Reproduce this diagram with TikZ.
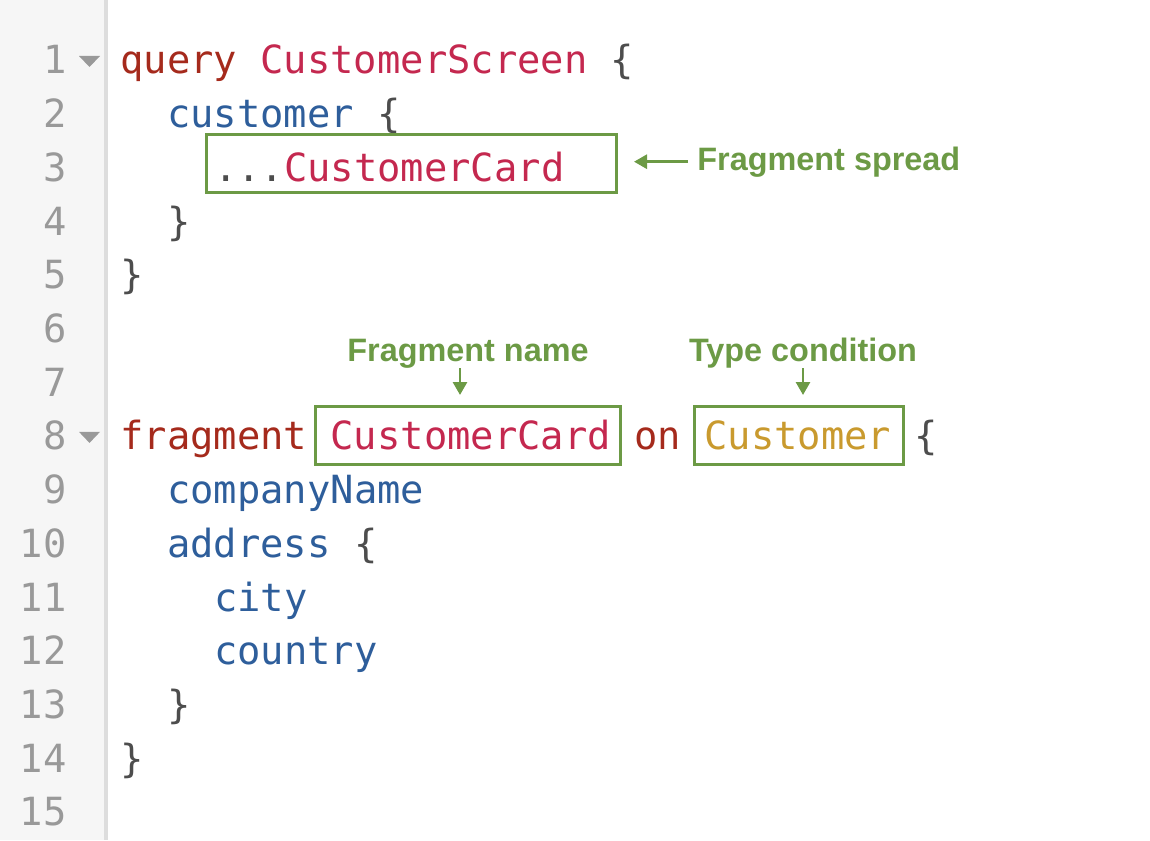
\documentclass[tikz,border=0pt]{standalone}
\usepackage{fontspec}
\setmonofont{DejaVu Sans Mono}
\setsansfont{Liberation Sans}
\usetikzlibrary{arrows.meta}

\definecolor{kwred}{HTML}{A52A1C}
\definecolor{defred}{HTML}{C4284F}
\definecolor{fieldblue}{HTML}{2E5E9B}
\definecolor{typegold}{HTML}{C99A2E}
\definecolor{punct}{HTML}{4D4D4D}
\definecolor{notegreen}{HTML}{6C9A45}
\definecolor{numgray}{HTML}{999999}
\definecolor{gutterbg}{HTML}{F6F6F6}
\definecolor{gutterline}{HTML}{DDDDDD}

\newcommand{\kw}[1]{\textcolor{kwred}{#1}}
\newcommand{\dfn}[1]{\textcolor{defred}{#1}}
\newcommand{\fld}[1]{\textcolor{fieldblue}{#1}}
\newcommand{\typ}[1]{\textcolor{typegold}{#1}}

\tikzset{
  code/.style={font=\ttfamily\fontsize{19.4pt}{24pt}\selectfont, anchor=base west, inner sep=0pt, text=punct},
  lineno/.style={font=\ttfamily\fontsize{19.4pt}{24pt}\selectfont, anchor=base east, inner sep=0pt, text=numgray},
  markbox/.style={draw=notegreen, line width=1.5pt, inner sep=0pt, minimum height=29pt},
  note/.style={font=\sffamily\bfseries\fontsize{16.2pt}{19pt}\selectfont, text=notegreen, inner sep=0pt},
  notearrow/.style={draw=notegreen, line width=1.4pt, -{Triangle[length=6.5pt,width=7pt]}}
}

\begin{document}
\begin{tikzpicture}[x=0.5pt,y=-0.5pt]
\useasboundingbox (0,0) rectangle (1150,840);

% gutter
\fill[gutterbg] (0,0) rectangle (104,840);
\fill[gutterline] (104,0) rectangle (107.5,840);
\foreach \n in {1,...,15}
  \node[lineno] (num\n) at (67,{74+(\n-1)*53.7}) {\n};
\foreach \y in {56,431.9}
  \fill[numgray] (79,\y) -- (100,\y) -- (89.5,\y+11) -- cycle;

% query
\node[code] (line1) at (120,74) {\kw{query} \dfn{CustomerScreen} \{};
\node[code] (line2) at (166.8,127.7) {\fld{customer} \{};
\node[code] (line3) at (213.6,181.4) {...\dfn{CustomerCard}};
\node[code] (line4) at (166.8,235.1) {\}};
\node[code] (line5) at (120,288.8) {\}};

% fragment
\node[code] (line8) at (120,449.9) {\kw{fragment} \dfn{CustomerCard} \kw{on} \typ{Customer} \{};
\node[code] (line9) at (166.8,503.6) {\fld{companyName}};
\node[code] (line10) at (166.8,557.3) {\fld{address} \{};
\node[code] (line11) at (213.6,611) {\fld{city}};
\node[code] (line12) at (213.6,664.7) {\fld{country}};
\node[code] (line13) at (166.8,718.4) {\}};
\node[code] (line14) at (120,772.1) {\}};

% boxes
\node[markbox, minimum width=205pt] (spreadbox) at (411.5,163.5) {};
\node[markbox, minimum width=152.5pt] (namebox) at (468,435.5) {};
\node[markbox, minimum width=104.5pt] (typebox) at (799,435.5) {};

% notes
\node[note, anchor=base west] (spreadlbl) at (697,170) {Fragment spread};
\node[note, anchor=base] (namelbl) at (468,361) {Fragment name};
\node[note, anchor=base] (typelbl) at (803,361) {Type condition};

\draw[notearrow, shorten <=4.5pt, shorten >=8pt] (spreadlbl.west) -- (spreadlbl.west -| spreadbox.east);
\draw[notearrow, shorten >=5pt] ([xshift=-4pt]namelbl.south) -- ([xshift=-4pt]namebox.north);
\draw[notearrow, shorten >=5pt] (typelbl.south) -- (typelbl.south |- typebox.north);

\end{tikzpicture}
\end{document}
